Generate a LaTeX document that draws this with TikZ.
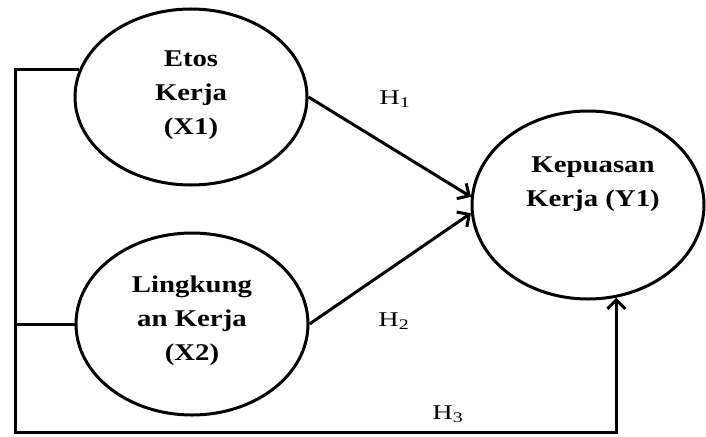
\documentclass[tikz,border=0pt]{standalone}
\usepackage{fontspec}
\setmainfont{Liberation Serif}
\usetikzlibrary{shapes.geometric,arrows.meta,calc}
\begin{document}
\begin{tikzpicture}[x=1pt,y=-1pt,
  construct/.style={ellipse,draw,line width=3pt,inner sep=0pt},
  conn/.style={line width=3pt},
  arr/.style={conn,-{Straight Barb[length=9pt,width=18pt,line width=3pt]}},
  lbl/.style={font=\bfseries\fontsize{24}{34}\selectfont,align=center,
    xscale=1.2,transform shape},
  hyp/.style={font=\fontsize{21}{24}\selectfont,xscale=1.35,transform shape}]
\useasboundingbox (0,0) rectangle (706,436);
% latent constructs
\node[construct,minimum width=232pt,minimum height=176pt] (e1) at (191,97) {};
\node[construct,minimum width=232pt,minimum height=182pt] (e2) at (192,324) {};
\node[construct,minimum width=232pt,minimum height=188pt] (e3) at (588,205) {};
\node[lbl] (t1) at (191,95) {Etos\\Kerja\\(X1)};
\node[lbl] (t2) at (192,321) {Lingkung\\an Kerja\\(X2)};
\node[lbl] (t3) at (593,184) {Kepuasan\\Kerja (Y1)};
% direct paths
\draw[arr] (e1.east) -- (e3.176);
\draw[arr] (e2.east) -- (e3.184);
% joint path along the left and bottom
\coordinate (bl) at (15,432);
\draw[conn] (e2.west) -- (e2.west -| bl);
\draw[arr] (e1.166) -| (bl) -| (e3.-73.5);
% hypothesis labels
\node[hyp] (h1) at (395,99) {H\textsubscript{1}};
\node[hyp] (h2) at (394,321) {H\textsubscript{2}};
\node[hyp] (h3) at (448,414) {H\textsubscript{3}};
\end{tikzpicture}
\end{document}
